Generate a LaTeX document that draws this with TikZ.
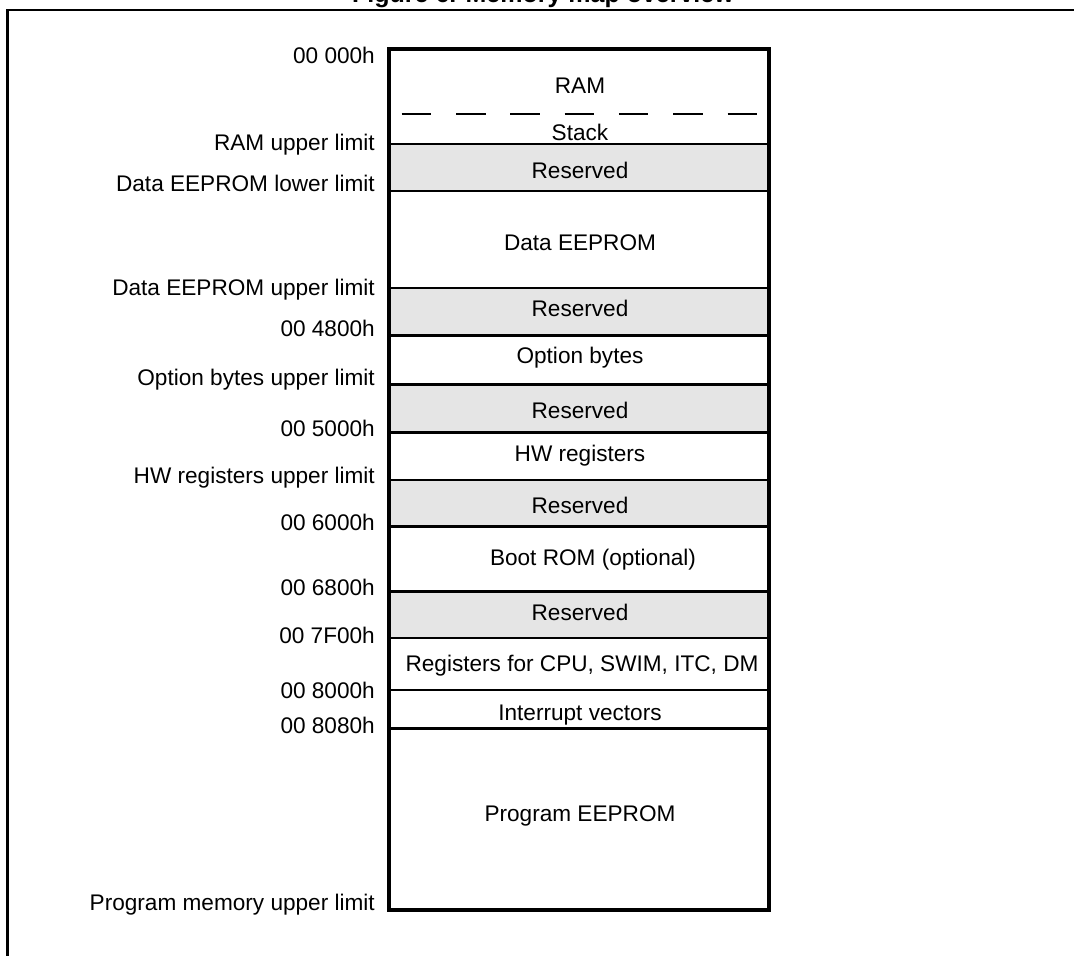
\documentclass[tikz,border=0pt]{standalone}
\usepackage{fontspec}
\setmainfont{Liberation Sans}
\begin{document}
\begin{tikzpicture}[x=1pt,y=-1pt,
  lbl/.style={anchor=base east,inner sep=0pt,font=\fontsize{22.6}{26}\selectfont},
  txt/.style={anchor=base,inner sep=0pt,font=\fontsize{22.6}{26}\selectfont},
  resv/.style={fill=black!10},
  sep/.style={line width=2.2pt},
  outer/.style={line width=4pt},
  frameline/.style={line width=2.5pt}]
\useasboundingbox (0,0) rectangle (1074,956);
\clip (0,0) rectangle (1074,956);
% title (cut by page top)
\node[anchor=base,inner sep=0pt,font=\fontsize{25}{28}\selectfont\bfseries] (title) at (543,2.5) {Figure 6. Memory map overview};
% outer frame
\draw[frameline] (7.7,970) -- (7.7,10) -- (1090,10);
% reserved fills
\fill[resv] (389,144) rectangle (769,191);
\fill[resv] (389,288) rectangle (769,335.5);
\fill[resv] (389,384.5) rectangle (769,432.5);
\fill[resv] (389,480) rectangle (769,526.5);
\fill[resv] (389,591.5) rectangle (769,638);
% separators
\foreach \y in {144,191,288,335.5,384.5,432.5,480,526.5,591.5,638,690,728.5}
  \draw[sep] (389,\y) -- (769,\y);
\draw[line width=2pt,dash pattern=on 29.5pt off 24.8pt] (401.7,114) -- (756.7,114);
\draw[outer] (389,48.5) rectangle (769,910);
% region texts
\node[txt] (ram) at (580,93.3) {RAM};
\node[txt] (stack) at (580,140) {Stack};
\node[txt] (r1) at (580,178) {Reserved};
\node[txt] (deeprom) at (580,250.7) {Data EEPROM};
\node[txt] (r2) at (580,316.7) {Reserved};
\node[txt] (opt) at (580,363.3) {Option bytes};
\node[txt] (r3) at (580,418.3) {Reserved};
\node[txt] (hw) at (580,461.7) {HW registers};
\node[txt] (r4) at (580,513.3) {Reserved};
\node[txt] (boot) at (593,565) {Boot ROM (optional)};
\node[txt] (r5) at (580,620) {Reserved};
\node[txt] (cpu) at (582,671.7) {Registers for CPU, SWIM, ITC, DM};
\node[txt] (irq) at (580,720) {Interrupt vectors};
\node[txt] (peeprom) at (580,821.7) {Program EEPROM};
% address labels
\node[lbl] (a0) at (375,63) {00 000h};
\node[lbl] (a1) at (375,150.5) {RAM upper limit};
\node[lbl] (a2) at (375,191.5) {Data EEPROM lower limit};
\node[lbl] (a3) at (375,295) {Data EEPROM upper limit};
\node[lbl] (a4) at (375,336.7) {00 4800h};
\node[lbl] (a5) at (375,385) {Option bytes upper limit};
\node[lbl] (a6) at (375,436.7) {00 5000h};
\node[lbl] (a7) at (375,483) {HW registers upper limit};
\node[lbl] (a8) at (375,530) {00 6000h};
\node[lbl] (a9) at (375,595) {00 6800h};
\node[lbl] (a10) at (375,643) {00 7F00h};
\node[lbl] (a11) at (375,698) {00 8000h};
\node[lbl] (a12) at (375,733) {00 8080h};
\node[lbl] (a13) at (375,910) {Program memory upper limit};
\end{tikzpicture}
\end{document}
